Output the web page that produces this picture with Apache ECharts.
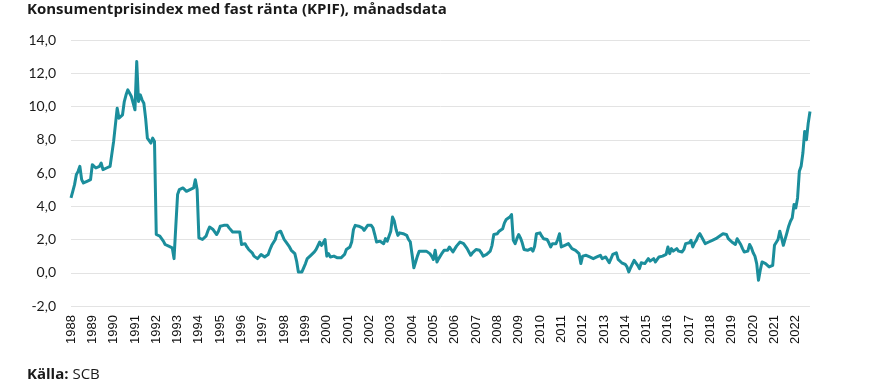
<!DOCTYPE html>
<html><head><meta charset="utf-8">
<script src="https://cdn.jsdelivr.net/npm/echarts@6/dist/echarts.min.js"></script>
<style>html,body{margin:0;padding:0;background:#fff}#c{width:872px;height:389px}</style>
</head><body><div id="c"></div>
<script>
const chartTitle = 'Konsumentprisindex med fast ränta (KPIF), månadsdata';
const sourceLabel = 'Källa:';
const sourceName = 'SCB';
const years = [1988,1989,1990,1991,1992,1993,1994,1995,1996,1997,1998,1999,2000,2001,2002,2003,2004,2005,2006,2007,2008,2009,2010,2011,2012,2013,2014,2015,2016,2017,2018,2019,2020,2021,2022];
const yTicks = [-2, 0, 2, 4, 6, 8, 10, 12, 14];

// KPIF, annual change in percent, monthly (Jan 1988 – Sep 2022)
const kpif1988_1991 = [
  4.5, 4.9, 5.3, 5.9, 6.1, 6.4, 5.6, 5.4, 5.3, 5.5, 5.6, 5.6,
  6.5, 6.4, 6.3, 6.4, 6.4, 6.6, 6.2, 6.3, 6.3, 6.3, 6.4, 6.35,
  7.9, 8.0, 9.9, 9.3, 9.3, 9.5, 10.3, 10.7, 11.0, 10.9, 10.6, 10.2,
  9.8, 12.7, 10.3, 10.7, 10.4, 10.2, 9.3, 8.1, 8.0, 7.8, 8.1, 7.9
];
const kpif1992_1995 = [
  2.3, 2.3, 2.2, 2.1, 1.9, 1.7, 1.6, 1.6, 1.6, 1.5, 0.85, 2.8,
  4.7, 5.0, 5.1, 5.1, 5.0, 4.9, 4.9, 5.0, 5.0, 5.1, 5.6, 5.0,
  2.1, 2.05, 2.0, 1.95, 2.2, 2.5, 2.75, 2.65, 2.6, 2.55, 2.3, 2.5,
  2.8, 2.8, 2.85, 2.85, 2.85, 2.7, 2.6, 2.45, 2.35, 2.45, 2.5, 2.45
];
const kpif1996_1999 = [
  1.7, 1.65, 1.75, 1.55, 1.4, 1.3, 1.2, 1.0, 0.9, 0.85, 0.75, 1.1,
  1.0, 0.95, 1.0, 1.1, 1.4, 1.65, 1.75, 2.0, 2.4, 2.5, 2.5, 2.45,
  2.0, 1.85, 1.7, 1.55, 1.35, 1.25, 1.15, 0.7, 0.05, 0.1, 0.05, 0.1,
  0.55, 0.85, 0.95, 1.05, 1.1, 1.25, 1.4, 1.5, 1.85, 1.65, 1.8, 2.0
];
const kpif2000_2003 = [
  1.0, 1.15, 0.95, 0.95, 1.0, 1.05, 0.9, 0.9, 0.9, 0.9, 1.1, 1.4,
  1.5, 1.55, 1.85, 2.6, 2.85, 2.75, 2.8, 2.85, 2.7, 2.55, 2.7, 2.85,
  2.85, 2.85, 2.7, 2.3, 1.85, 1.9, 1.9, 1.8, 1.75, 2.05, 1.9, 1.85,
  2.5, 3.35, 3.1, 2.6, 2.25, 2.4, 2.45, 2.35, 2.3, 2.25, 2.0, 1.85
];
const kpif2004_2007 = [
  1.1, 0.3, 0.65, 1.0, 1.3, 1.4, 1.3, 1.25, 1.3, 1.25, 1.15, 1.0,
  0.8, 1.35, 0.65, 0.85, 0.95, 1.2, 1.35, 1.3, 1.35, 1.55, 1.4, 1.25,
  1.3, 1.6, 1.7, 1.85, 1.85, 1.75, 1.6, 1.45, 1.25, 1.05, 1.2, 1.3,
  1.4, 1.35, 1.35, 1.2, 1.0, 1.1, 1.1, 1.0, 1.3, 1.65, 2.3, 2.35
];
const kpif2008_2011 = [
  2.35, 2.5, 2.55, 2.65, 3.0, 3.2, 3.3, 3.35, 3.5, 1.95, 1.75, 2.05,
  2.3, 2.1, 1.8, 1.4, 1.35, 1.35, 1.4, 1.45, 1.3, 1.6, 2.35, 2.4,
  2.4, 2.2, 2.05, 2.0, 2.0, 1.8, 1.55, 1.75, 1.8, 1.75, 2.0, 2.35,
  1.55, 1.6, 1.65, 1.7, 1.75, 1.6, 1.45, 1.4, 1.35, 1.25, 1.15, 0.55
];
const kpif2012_2015 = [
  1.0, 1.05, 1.05, 1.0, 0.95, 0.9, 0.85, 0.9, 0.95, 1.0, 1.05, 0.85,
  0.9, 0.95, 0.85, 0.6, 0.6, 1.1, 1.2, 1.2, 0.8, 0.7, 0.6, 0.55,
  0.5, 0.35, 0.05, 0.3, 0.4, 0.75, 0.6, 0.45, 0.25, 0.6, 0.6, 0.55,
  0.7, 0.85, 0.7, 0.75, 0.85, 0.65, 0.8, 0.95, 1.0, 1.0, 1.05, 1.1
];
const kpif2016_2019 = [
  1.55, 1.15, 1.45, 1.3, 1.25, 1.45, 1.3, 1.25, 1.25, 1.4, 1.75, 1.75,
  1.8, 1.95, 1.55, 1.8, 1.95, 2.2, 2.35, 2.25, 1.95, 1.75, 1.8, 1.85,
  1.9, 1.95, 2.0, 2.05, 2.15, 2.2, 2.3, 2.35, 2.45, 2.3, 2.05, 2.0,
  1.85, 1.8, 1.7, 2.05, 2.1, 1.7, 1.45, 1.25, 1.25, 1.3, 1.7, 1.5
];
const kpif2020_2022 = [
  1.2, 1.0, 0.55, -0.45, 0.15, 0.65, 0.55, 0.55, 0.65, 0.35, 0.25, 0.45,
  1.65, 1.6, 2.0, 2.5, 2.1, 1.65, 1.7, 2.4, 2.8, 3.1, 3.3, 4.1,
  3.9, 4.5, 6.1, 6.4, 7.2, 8.5, 8.0, 9.0, 9.7
];

const values = [].concat(kpif1988_1991, kpif1992_1995, kpif1996_1999, kpif2000_2003,
  kpif2004_2007, kpif2008_2011, kpif2012_2015, kpif2016_2019, kpif2020_2022);
const categories = [];
years.forEach(y => { for (let m = 1; m <= 12; m++) categories.push(y + '-' + (m < 10 ? '0' + m : m)); });
categories.length = values.length;

const chart = echarts.init(document.getElementById('c'), null, {renderer: 'canvas'});
chart.setOption({
  animation: false,
  backgroundColor: '#ffffff',
  title: {
    text: chartTitle, left: 27, top: 2, padding: 0,
    textStyle: {fontFamily: 'Open Sans', fontWeight: 'bold', fontSize: 15, color: '#1a1a1a'}
  },
  graphic: [{
    type: 'text', left: 27, top: 367,
    style: {
      text: '{b|' + sourceLabel + '} ' + sourceName,
      rich: {b: {fontFamily: 'Open Sans', fontWeight: 'bold', fontSize: 15, fill: '#1a1a1a'}},
      fontFamily: 'Open Sans', fontSize: 15, fill: '#1a1a1a'
    }
  }],
  grid: {left: 71, right: 62, top: 40, bottom: 83, containLabel: false},
  xAxis: {
    type: 'category', data: categories, boundaryGap: false,
    axisLine: {show: false}, axisTick: {show: false},
    axisLabel: {
      interval: 11, rotate: 90, margin: 9,
      formatter: v => v.slice(0, 4),
      fontFamily: 'Liberation Sans', fontSize: 13, color: '#111'
    },
    splitLine: {show: false}
  },
  yAxis: {
    type: 'value', min: yTicks[0], max: yTicks[yTicks.length - 1], interval: 2,
    axisLine: {show: false}, axisTick: {show: false},
    axisLabel: {
      margin: 15, fontFamily: 'Lato', fontSize: 14, color: '#1a1a1a',
      formatter: v => v.toFixed(1).replace('.', ',')
    },
    splitLine: {lineStyle: {color: '#e3e3e3', width: 1}}
  },
  series: [{
    type: 'line', data: values, showSymbol: false, symbol: 'none',
    lineStyle: {color: '#1b8e9c', width: 3, join: 'round'}
  }]
});
</script></body></html>
